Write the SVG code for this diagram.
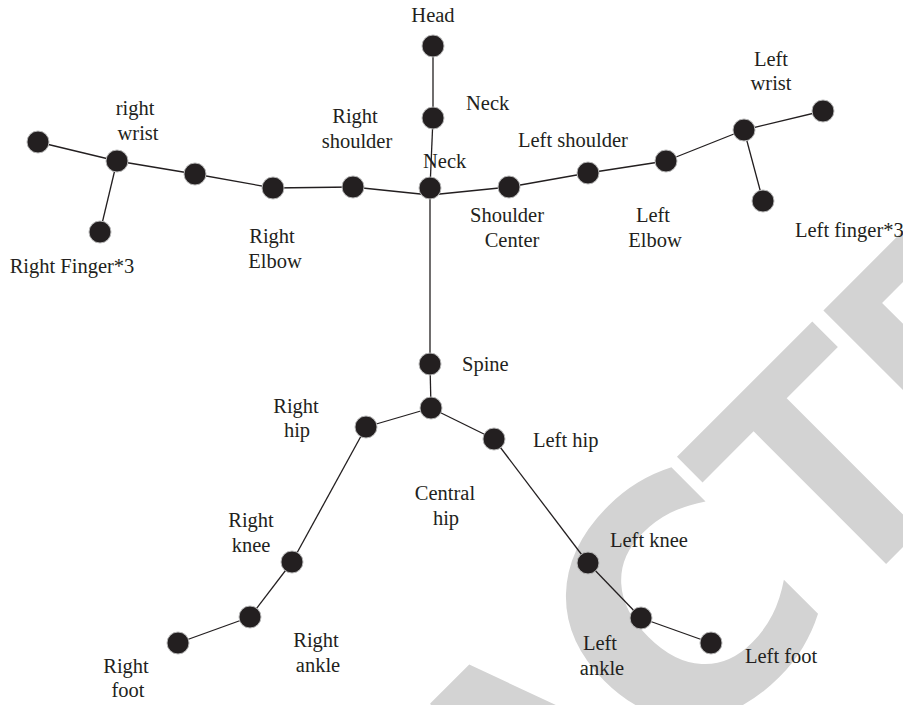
<svg xmlns="http://www.w3.org/2000/svg" width="903" height="705" viewBox="0 0 903 705">
<style>
.wm{font-family:"Liberation Sans",Arial,sans-serif;font-weight:bold;font-size:325px;fill:#d3d3d3}
.wmc{font-family:"DejaVu Sans",sans-serif;font-size:320px}
.lbl{font-family:"Liberation Serif","Times New Roman",serif;font-size:20.5px;fill:#231f20}
.m{text-anchor:middle}
.n{fill:#231f20;stroke:#b8b8b8;stroke-width:1}
.e{stroke:#231f20;stroke-width:1.3;fill:none}
</style>
<rect width="903" height="705" fill="#fff"/>
<text class="wm" transform="translate(725,725) rotate(-45)" y="0"><tspan x="-1190">RETR</tspan><tspan x="-283">A</tspan><tspan class="wmc" x="-70">C</tspan><tspan x="152">T</tspan><tspan x="341">E</tspan><tspan x="540">D</tspan></text>
<g id="connectors" class="e">
<line x1="433" y1="46" x2="433" y2="118"/>
<line x1="433" y1="118" x2="430" y2="188"/>
<line x1="430" y1="188" x2="430" y2="364"/>
<line x1="430" y1="364" x2="431" y2="408"/>
<line x1="430" y1="195" x2="509" y2="187"/>
<line x1="509" y1="187" x2="588" y2="173"/>
<line x1="588" y1="173" x2="666" y2="161"/>
<line x1="666" y1="161" x2="744" y2="130"/>
<line x1="744" y1="130" x2="823" y2="111"/>
<line x1="744" y1="130" x2="763" y2="201"/>
<line x1="430" y1="195" x2="353" y2="187"/>
<line x1="353" y1="187" x2="273" y2="188"/>
<line x1="273" y1="188" x2="195" y2="174"/>
<line x1="195" y1="174" x2="117" y2="161"/>
<line x1="117" y1="161" x2="38" y2="142"/>
<line x1="117" y1="161" x2="100" y2="232"/>
<line x1="431" y1="408" x2="366" y2="427"/>
<line x1="431" y1="408" x2="494" y2="439"/>
<line x1="366" y1="427" x2="292" y2="562"/>
<line x1="292" y1="562" x2="250" y2="617"/>
<line x1="250" y1="617" x2="178" y2="643"/>
<line x1="494" y1="439" x2="588" y2="563"/>
<line x1="588" y1="563" x2="641" y2="618"/>
<line x1="641" y1="618" x2="711" y2="643"/>
</g>
<g id="head"><circle class="n" cx="433" cy="46" r="11"/><text class="lbl m" x="433" y="22">Head</text></g>
<g id="neck"><circle class="n" cx="433" cy="118" r="11"/><text class="lbl" x="466" y="110">Neck</text></g>
<g id="neck-center"><circle class="n" cx="430" cy="188" r="11"/><text class="lbl" x="423" y="168">Neck</text></g>
<g id="shoulder-center"><circle class="n" cx="509" cy="187" r="11"/><text class="lbl m" x="507" y="222">Shoulder</text><text class="lbl m" x="512" y="247">Center</text></g>
<g id="left-shoulder"><circle class="n" cx="588" cy="173" r="11"/><text class="lbl" x="518" y="147">Left shoulder</text></g>
<g id="left-elbow"><circle class="n" cx="666" cy="161" r="11"/><text class="lbl m" x="653" y="222">Left</text><text class="lbl m" x="655" y="247">Elbow</text></g>
<g id="left-wrist"><circle class="n" cx="744" cy="130" r="11"/><text class="lbl m" x="771" y="66">Left</text><text class="lbl m" x="771" y="90">wrist</text></g>
<g id="left-hand"><circle class="n" cx="823" cy="111" r="11"/></g>
<g id="left-finger"><circle class="n" cx="763" cy="201" r="11"/><text class="lbl" x="795" y="237">Left finger*3</text></g>
<g id="right-shoulder"><circle class="n" cx="353" cy="187" r="11"/><text class="lbl m" x="355" y="123">Right</text><text class="lbl m" x="357" y="148">shoulder</text></g>
<g id="right-elbow"><circle class="n" cx="273" cy="188" r="11"/><text class="lbl m" x="272" y="243">Right</text><text class="lbl m" x="275" y="268">Elbow</text></g>
<g id="right-forearm"><circle class="n" cx="195" cy="174" r="11"/></g>
<g id="right-wrist"><circle class="n" cx="117" cy="161" r="11"/><text class="lbl m" x="135" y="115">right</text><text class="lbl m" x="138" y="140">wrist</text></g>
<g id="right-hand"><circle class="n" cx="38" cy="142" r="11"/></g>
<g id="right-finger"><circle class="n" cx="100" cy="232" r="11"/><text class="lbl m" x="72" y="273">Right Finger*3</text></g>
<g id="spine"><circle class="n" cx="430" cy="364" r="11"/><text class="lbl" x="462" y="371">Spine</text></g>
<g id="central-hip"><circle class="n" cx="431" cy="408" r="11"/><text class="lbl m" x="445" y="500">Central</text><text class="lbl m" x="446" y="525">hip</text></g>
<g id="right-hip"><circle class="n" cx="366" cy="427" r="11"/><text class="lbl m" x="296" y="413">Right</text><text class="lbl m" x="297" y="437">hip</text></g>
<g id="left-hip"><circle class="n" cx="494" cy="439" r="11"/><text class="lbl" x="533" y="447">Left hip</text></g>
<g id="right-knee"><circle class="n" cx="292" cy="562" r="11"/><text class="lbl m" x="251" y="527">Right</text><text class="lbl m" x="251" y="552">knee</text></g>
<g id="right-ankle"><circle class="n" cx="250" cy="617" r="11"/><text class="lbl m" x="316" y="647">Right</text><text class="lbl m" x="318" y="672">ankle</text></g>
<g id="right-foot"><circle class="n" cx="178" cy="643" r="11"/><text class="lbl m" x="126" y="673">Right</text><text class="lbl m" x="128" y="697">foot</text></g>
<g id="left-knee"><circle class="n" cx="588" cy="563" r="11"/><text class="lbl" x="610" y="547">Left knee</text></g>
<g id="left-ankle"><circle class="n" cx="641" cy="618" r="11"/><text class="lbl m" x="600" y="650">Left</text><text class="lbl m" x="602" y="675">ankle</text></g>
<g id="left-foot"><circle class="n" cx="711" cy="643" r="11"/><text class="lbl" x="745" y="663">Left foot</text></g>
</svg>
